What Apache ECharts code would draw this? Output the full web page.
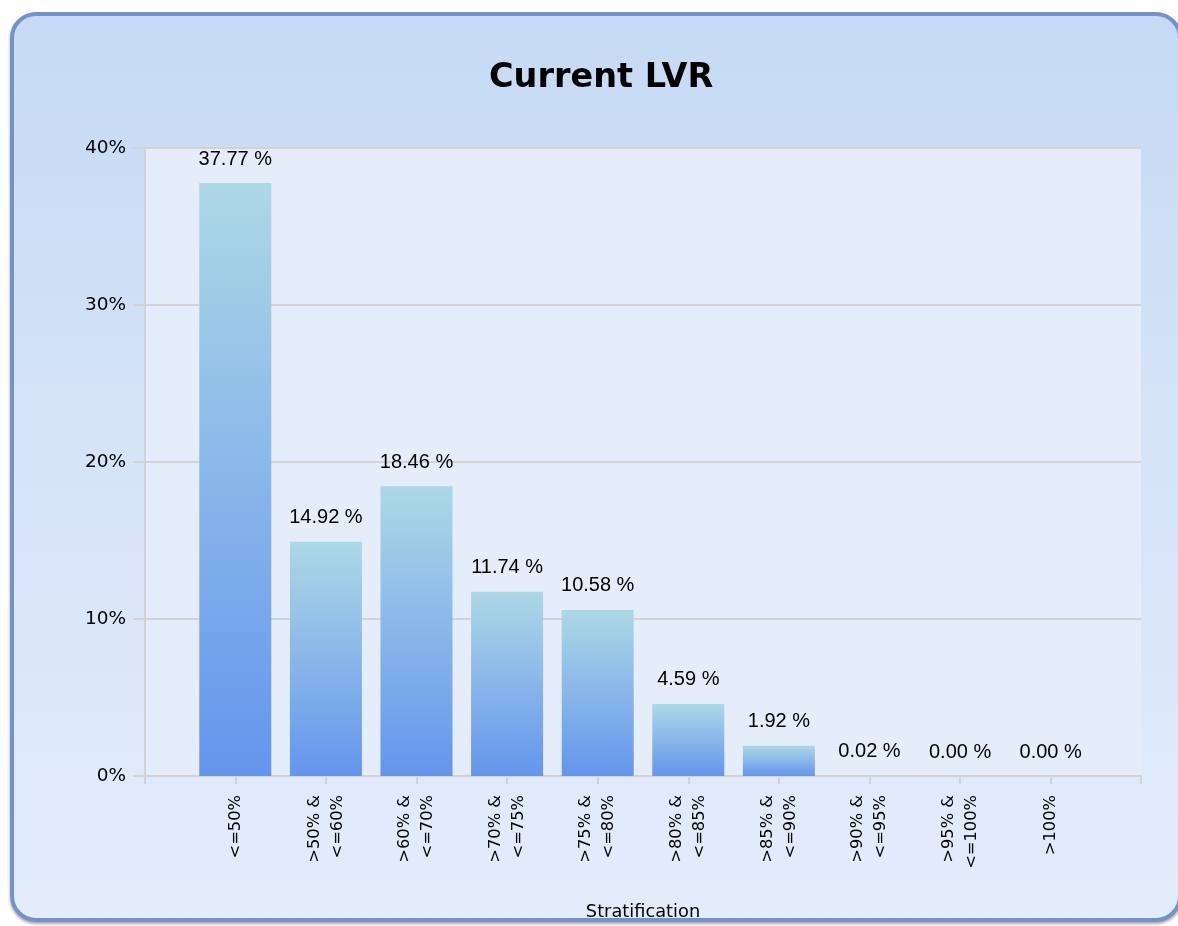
<!DOCTYPE html>
<html>
<head>
<meta charset="utf-8">
<script src="https://cdn.jsdelivr.net/npm/echarts@6/dist/echarts.min.js"></script>
<style>
  html, body { margin: 0; padding: 0; background: #ffffff; }
  #wrap { position: relative; width: 1178px; height: 926px; overflow: hidden; }
  #panel {
    position: absolute; left: 10px; top: 12px; width: 1164px; height: 902px;
    border: 4px solid #7392c9; border-radius: 26px;
    background: linear-gradient(to bottom, #c6daf5 0%, #d6e4f8 50%, #e3ecfb 100%);
    box-shadow: 0 2px 3px rgba(0,0,0,0.35);
  }
  #chart { position: absolute; left: 0; top: 0; width: 1178px; height: 926px; }
</style>
</head>
<body>
<div id="wrap">
  <div id="panel"></div>
  <div id="chart"></div>
</div>
<script>
const categories = ['<=50%', '>50% &\n<=60%', '>60% &\n<=70%', '>70% &\n<=75%', '>75% &\n<=80%',
                    '>80% &\n<=85%', '>85% &\n<=90%', '>90% &\n<=95%', '>95% &\n<=100%', '>100%'];
const values = [37.77, 14.92, 18.46, 11.74, 10.58, 4.59, 1.92, 0.02, 0.00, 0.00];
const yTicks = { min: 0, max: 40, interval: 10 };
const titleText = 'Current LVR';
const xAxisName = 'Stratification';

const gridColor = '#d3d3d3';
const chart = echarts.init(document.getElementById('chart'), null, { renderer: 'canvas' });
chart.setOption({
  backgroundColor: 'transparent',
  animation: false,
  title: {
    text: titleText, left: 484, top: 56,
    textStyle: { fontFamily: 'DejaVu Sans', fontWeight: 'bold', fontSize: 33.5, color: '#000' }
  },
  grid: [
    { left: 145, right: 37, top: 148, bottom: 150, show: true, backgroundColor: '#e5edfa', borderWidth: 0 },
    { left: 190, right: 82, top: 148, bottom: 150 }
  ],
  xAxis: [
    {
      gridIndex: 0, type: 'category', data: [''], boundaryGap: true, position: 'bottom',
      axisLine: { show: true, lineStyle: { color: gridColor, width: 2 } },
      axisTick: { show: true, length: 8, lineStyle: { color: gridColor, width: 2 } },
      axisLabel: { show: false },
      name: xAxisName, nameLocation: 'middle', nameGap: 127,
      nameTextStyle: { fontFamily: 'DejaVu Sans', fontSize: 17.8, color: '#000' }
    },
    {
      gridIndex: 1, type: 'category', data: categories, boundaryGap: true, position: 'bottom',
      axisLine: { show: false },
      axisTick: { show: true, alignWithLabel: true, length: 8, lineStyle: { color: gridColor, width: 2 } },
      axisLabel: {
        rotate: 90, margin: 19, interval: 0, fontFamily: 'DejaVu Sans', fontSize: 16.3,
        lineHeight: 23, color: '#000'
      }
    }
  ],
  yAxis: [
    {
      gridIndex: 0, type: 'value', min: yTicks.min, max: yTicks.max, interval: yTicks.interval,
      axisLine: { show: true, lineStyle: { color: gridColor, width: 2 } },
      axisTick: { show: true, length: 12, lineStyle: { color: gridColor, width: 2 } },
      splitLine: { show: true, lineStyle: { color: gridColor, width: 2 } },
      axisLabel: { formatter: '{value}%', margin: 19, fontFamily: 'DejaVu Sans', fontSize: 18.5, color: '#000' }
    },
    {
      gridIndex: 1, type: 'value', min: yTicks.min, max: yTicks.max, interval: yTicks.interval,
      show: false
    }
  ],
  series: [{
    type: 'bar', xAxisIndex: 1, yAxisIndex: 1, data: values, barWidth: 72,
    itemStyle: {
      color: new echarts.graphic.LinearGradient(0, 0, 0, 1, [
        { offset: 0, color: '#add8e6' },
        { offset: 1, color: '#6495ed' }
      ])
    },
    label: {
      show: true, position: 'top', distance: 14,
      fontFamily: 'Liberation Sans', fontSize: 20, color: '#000',
      formatter: p => p.value.toFixed(2) + ' %'
    }
  }]
});
</script>
</body>
</html>
